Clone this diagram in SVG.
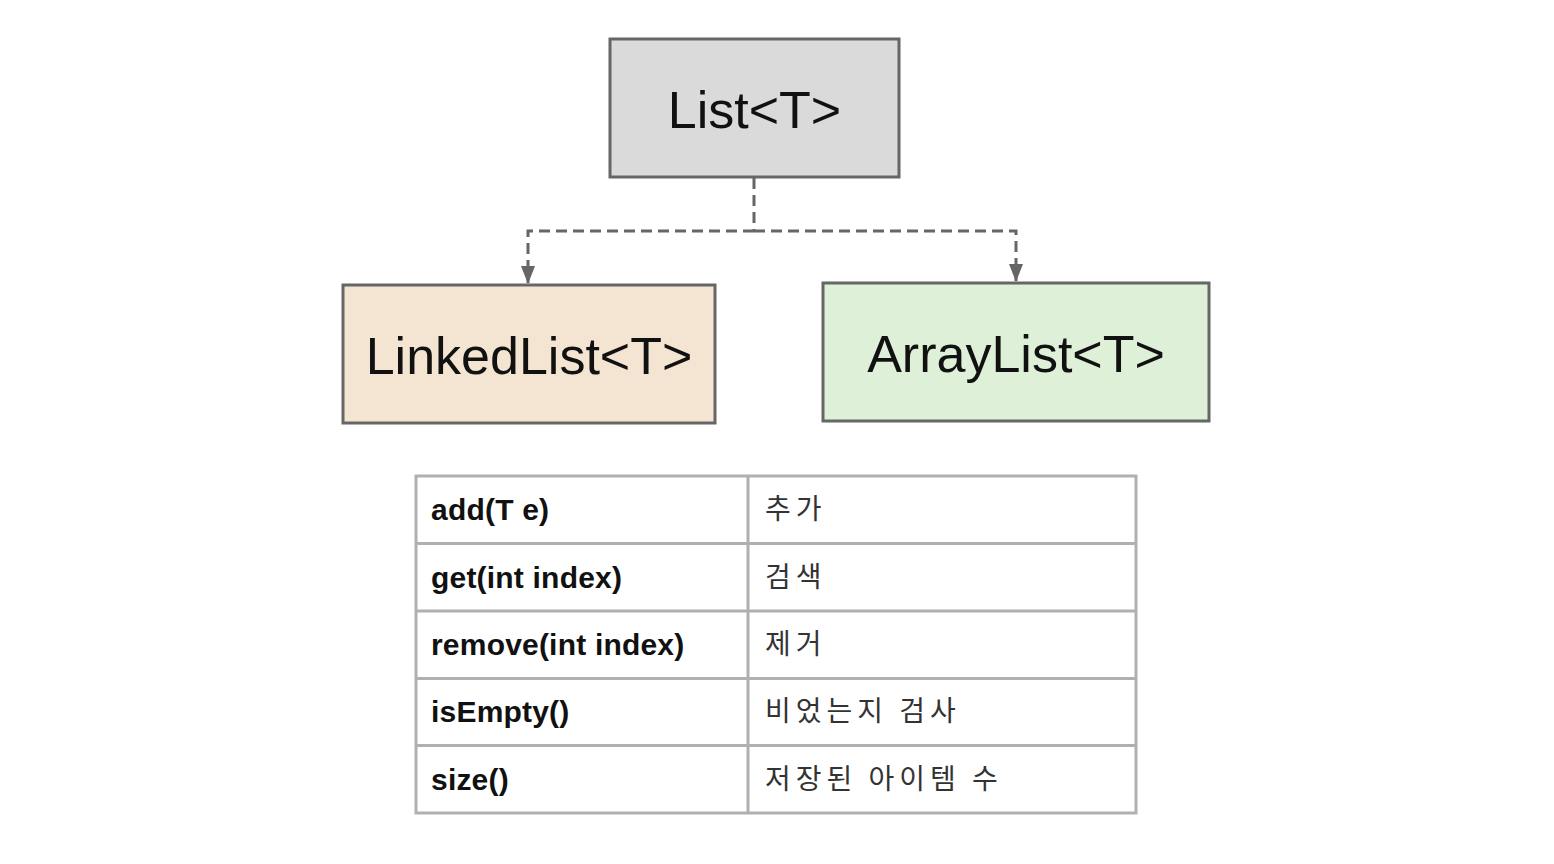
<svg xmlns="http://www.w3.org/2000/svg" width="1554" height="864" viewBox="0 0 1554 864">
<style>
.box{stroke:#666;stroke-width:3}
.title{font-family:"Liberation Sans",Arial,sans-serif;font-size:52px;fill:#111;text-anchor:middle}
.conn{fill:none;stroke:#666;stroke-width:3;stroke-dasharray:11 6}
.grid{stroke:#b0b0b0;stroke-width:3;fill:none}
.m{font-family:"Liberation Sans",Arial,sans-serif;font-size:30px;font-weight:bold;fill:#111;letter-spacing:0.2px}
.k{font-family:"Noto Sans CJK KR","Noto Sans",sans-serif;font-size:28px;fill:#333;letter-spacing:5px}
</style>
<defs>
<marker id="arr" markerWidth="18" markerHeight="14" refX="17" refY="7" orient="auto" markerUnits="userSpaceOnUse">
<path d="M0,0 L18,7 L0,14 Z" fill="#666"/>
</marker>
</defs>
<rect width="1554" height="864" fill="#fff"/>
<g id="connectors">
<path class="conn" d="M754,178 V231"/>
<path class="conn" d="M754,231 H528 V283" marker-end="url(#arr)"/>
<path class="conn" d="M754,231 H1016 V281" marker-end="url(#arr)"/>
</g>
<g id="list">
<rect class="box" x="610" y="39" width="289" height="138" fill="#dadada"/>
<text class="title" x="754.5" y="128">List&lt;T&gt;</text>
</g>
<g id="linkedlist">
<rect class="box" x="343" y="285" width="372" height="138" fill="#f4e5d2"/>
<text class="title" x="529" y="374">LinkedList&lt;T&gt;</text>
</g>
<g id="arraylist">
<rect class="box" x="823" y="283" width="386" height="138" fill="#dff0d8"/>
<text class="title" x="1016" y="372">ArrayList&lt;T&gt;</text>
</g>
<g id="table">
<rect class="grid" x="416" y="476" width="720" height="337" fill="#fff"/>
<path class="grid" d="M416,543.5 H1136 M416,611 H1136 M416,678.5 H1136 M416,745.5 H1136 M748,476 V813"/>
<text class="m" x="431" y="520">add(T e)</text>
<text class="m" x="431" y="587.5">get(int index)</text>
<text class="m" x="431" y="655">remove(int index)</text>
<text class="m" x="431" y="722">isEmpty()</text>
<text class="m" x="431" y="789.5">size()</text>
<text class="k" x="765" y="519">추가</text>
<text class="k" x="765" y="586.5">검색</text>
<text class="k" x="765" y="654">제거</text>
<text class="k" x="765" y="721">비었는지 검사</text>
<text class="k" x="765" y="788.5">저장된 아이템 수</text>
</g>
</svg>
